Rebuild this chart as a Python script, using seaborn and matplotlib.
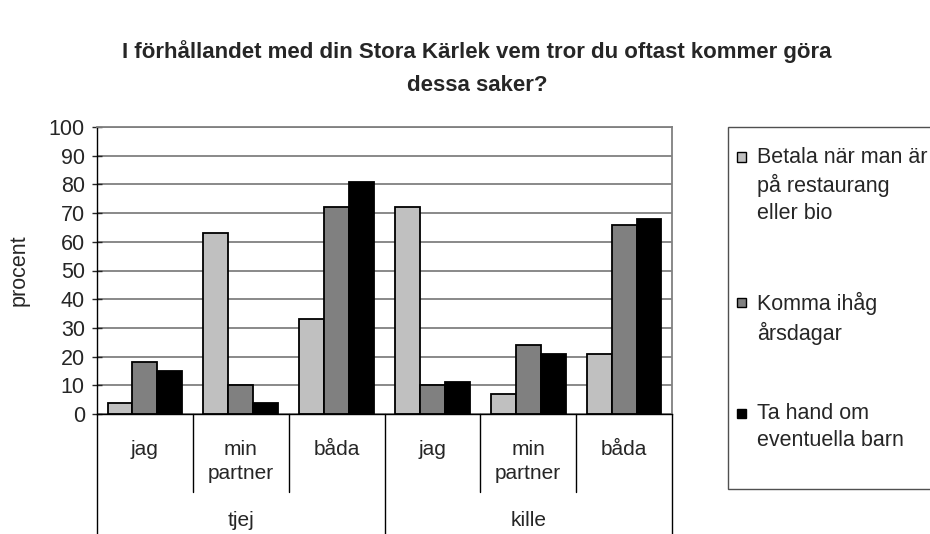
import pandas as pd
import matplotlib.pyplot as plt
import matplotlib.patches as mpatches
import seaborn as sns

groups = ['tjej', 'kille']
answers = ['jag', 'min\npartner', 'båda']
series = ['Betala när man är\npå restaurang\neller bio',
          'Komma ihåg\nårsdagar',
          'Ta hand om\neventuella barn']
betala = [4, 63, 33, 72, 7, 21]
komma = [18, 10, 72, 10, 24, 66]
ta_hand = [15, 4, 81, 11, 21, 68]
colors = ['#C0C0C0', '#808080', '#000000']

cats = [g + '|' + a for g in groups for a in answers]
rows = []
for name, vals in zip(series, [betala, komma, ta_hand]):
    for c, v in zip(cats, vals):
        rows.append({'cat': c, 'serie': name, 'procent': v})
df = pd.DataFrame(rows)

sns.set_style('white')
plt.rcParams['font.family'] = ['Liberation Sans', 'DejaVu Sans']

W, H = 930, 534
fig = plt.figure(figsize=(9.3, 5.34), dpi=100)
ax = fig.add_axes([97 / W, (H - 414) / H, 575 / W, 287 / H])

sns.barplot(data=df, x='cat', y='procent', hue='serie', order=cats,
            hue_order=series, palette=colors, edgecolor='black',
            linewidth=1.3, width=0.78, gap=0, ax=ax, legend=False)

ax.set_xlim(-0.5, 5.5)
ax.set_ylim(0, 100)
ax.set_yticks(range(0, 101, 10))
ax.yaxis.grid(True, color='#808080', linewidth=1.3)
ax.set_axisbelow(True)
ax.tick_params(axis='y', left=True, direction='inout', length=7.5, width=1,
               labelsize=15.5, pad=5)
ax.set_ylabel('procent', fontsize=15.5, labelpad=13.5)
ax.set_xlabel('')
ax.set_xticks(range(6))
ax.set_xticklabels(answers * 2, fontsize=15, linespacing=1.35)
ax.tick_params(axis='x', length=0, pad=18.5)
for s in ['top', 'right']:
    ax.spines[s].set_color('#808080')
    ax.spines[s].set_linewidth(1.3)
for s in ['left', 'bottom']:
    ax.spines[s].set_color('black')
    ax.spines[s].set_linewidth(1)

# category dividers below the axis
trans = ax.get_xaxis_transform()
for x in [0.5, 1.5, 3.5, 4.5]:
    ax.plot([x, x], [0, -78 / 287], color='black', lw=1, transform=trans, clip_on=False)
for x in [-0.5, 2.5, 5.5]:
    ax.plot([x, x], [0, -125 / 287], color='black', lw=1, transform=trans, clip_on=False)
for i, g in enumerate(groups):
    ax.text(1 + 3 * i, -107 / 287, g, transform=trans, ha='center', va='center', fontsize=15)

fig.text(477 / W, 1 - 68.5 / H,
         'I förhållandet med din Stora Kärlek vem tror du oftast kommer göra\ndessa saker?',
         ha='center', va='center', fontsize=16, fontweight='bold', linespacing=1.75)

# legend
fig.patches.append(mpatches.Rectangle((728 / W, (H - 489) / H), 0.3, 362 / H,
                                      transform=fig.transFigure, facecolor='white',
                                      edgecolor='#505050', lw=1))
for name, col, mid, top in zip(series, colors, [157, 302, 413], [147, 292, 403]):
    fig.patches.append(mpatches.Rectangle((737 / W, (H - mid - 4.5) / H), 9 / W, 9 / H,
                                          transform=fig.transFigure, facecolor=col,
                                          edgecolor='black', lw=1))
    fig.text(757 / W, 1 - top / H, name, ha='left', va='top',
             fontsize=15.5, linespacing=1.35)

fig.savefig('out.png', dpi=100)
